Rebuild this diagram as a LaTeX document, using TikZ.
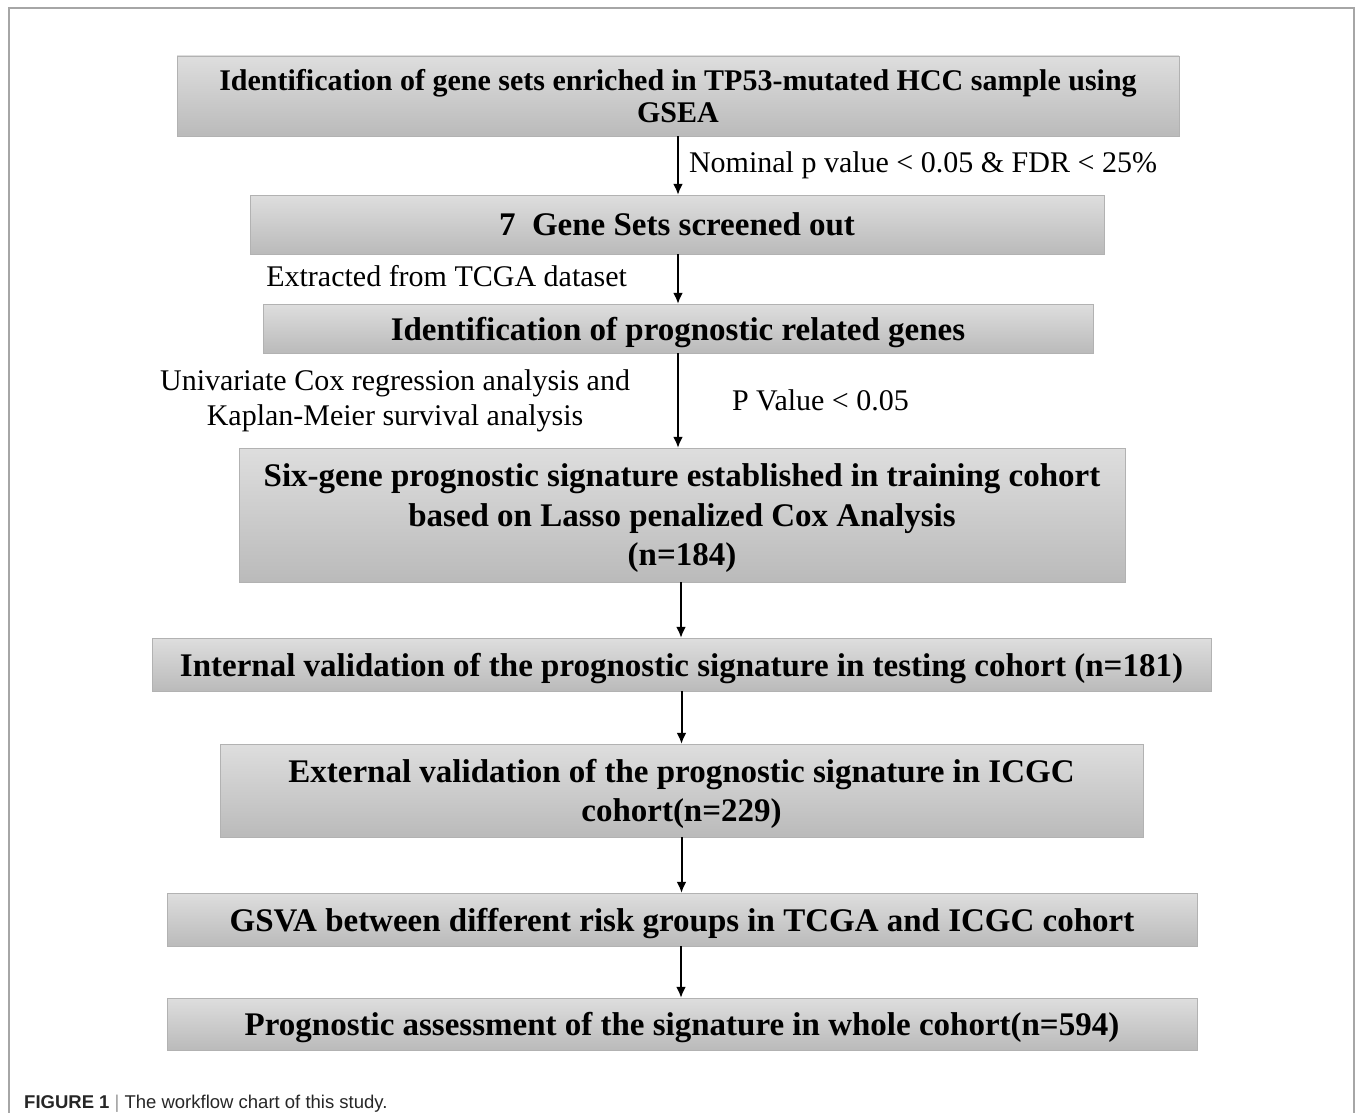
\documentclass[tikz,border=0pt]{standalone}
\usepackage{fontspec}
\setmainfont{Liberation Serif}
\newfontfamily\capfont{Liberation Sans}
\usetikzlibrary{arrows.meta,positioning}

\tikzset{
  flowbox/.style={draw=black!30, top color=black!13, bottom color=black!27,
    inner sep=0pt, align=center, text depth=0pt, font=\bfseries\fontsize{33}{39.5}\selectfont},
  flowarrow/.style={-{Latex[length=11pt,width=10pt]}, line width=2pt},
  steplabel/.style={inner sep=0pt, align=center, font=\fontsize{30}{35}\selectfont}
}

\begin{document}
\begin{tikzpicture}[x=1pt,y=-1pt]
\useasboundingbox (0,0) rectangle (1355,1113);
% frame
\draw [black!35, line width=1.2pt] (9,1113) -- (9,8) -- (1354,8) -- (1354,1113);

% boxes
\node [flowbox, minimum width=1002pt, minimum height=80pt,
  font=\bfseries\fontsize{30}{31.5}\selectfont] (gsea) at (678,96)
  {Identification of gene sets enriched in TP53-mutated HCC sample using\\GSEA};
\node [flowbox, minimum width=854pt, minimum height=59pt] (sets) at (677,224.5)
  {7\ \ Gene Sets screened out};
\node [flowbox, minimum width=830pt, minimum height=49pt] (genes) at (678,328.5)
  {Identification of prognostic related genes};
\node [flowbox, minimum width=886pt, minimum height=134pt] (signature) at (682,515)
  {Six-gene prognostic signature established in training cohort\\based on Lasso penalized Cox Analysis\\(n=184)};
\node [flowbox, minimum width=1059pt, minimum height=53pt] (internal) at (681.5,664.5)
  {Internal validation of the prognostic signature in testing cohort (n=181)};
\node [flowbox, minimum width=923pt, minimum height=93pt] (external) at (681.5,790.5)
  {External validation of the prognostic signature in ICGC\\cohort(n=229)};
\node [flowbox, minimum width=1030pt, minimum height=53pt] (gsva) at (682,919.5)
  {GSVA between different risk groups in TCGA and ICGC cohort};
\node [flowbox, minimum width=1030pt, minimum height=52pt] (whole) at (682,1024)
  {Prognostic assessment of the signature in whole cohort(n=594)};

% arrows
\draw [flowarrow] (gsea.south) -- node [steplabel, right, xshift=10pt]
  {Nominal p value < 0.05 \& FDR < 25\%} (gsea.south |- sets.north);
\draw [flowarrow] (gsea.south |- sets.south) -- node [steplabel, left, xshift=-50pt, yshift=3pt]
  {Extracted from TCGA dataset} (gsea.south |- genes.north);
\draw [flowarrow] (genes.south) -- node [steplabel, left, xshift=-47pt]
  {Univariate Cox regression analysis and\\Kaplan-Meier survival analysis}
  node [steplabel, right, xshift=53pt] {P Value < 0.05} (genes.south |- signature.north);
\draw [flowarrow] ([xshift=-1pt]signature.south) -- ([xshift=-1pt]signature.south |- internal.north);
\draw [flowarrow] (internal.south) -- (internal.south |- external.north);
\draw [flowarrow] (external.south) -- (external.south |- gsva.north);
\draw [flowarrow] ([xshift=-1pt]gsva.south) -- ([xshift=-1pt]gsva.south |- whole.north);

% caption
\node [anchor=base west, inner sep=0pt, text=black!85,
  font=\capfont\fontsize{18.5}{22}\selectfont] (caption) at (24,1108)
  {\textbf{FIGURE 1} {\color{black!40}|} The workflow chart of this study.};
\end{tikzpicture}
\end{document}
